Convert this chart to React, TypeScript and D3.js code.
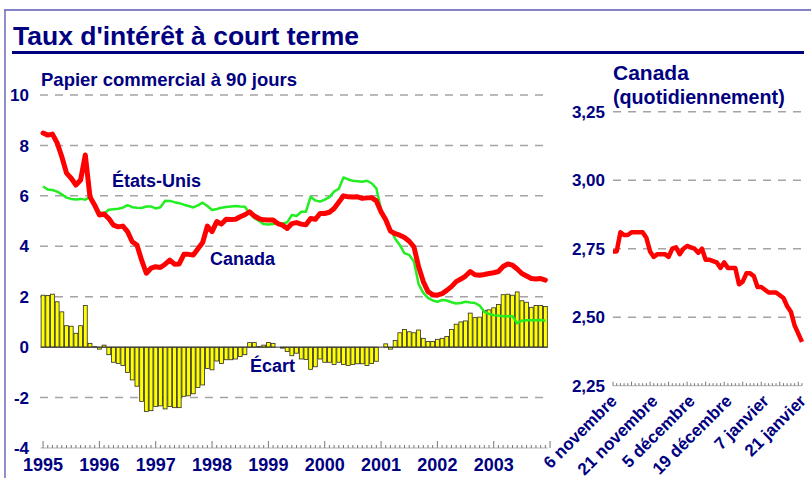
import React from 'react';
import * as d3 from 'd3';

const W = 811;
const H = 478;
const FONT = 'Arial, "Liberation Sans", sans-serif';
const NAVY = '#000080';

const years = ['1995', '1996', '1997', '1998', '1999', '2000', '2001', '2002', '2003'];
const leftTicks = [10, 8, 6, 4, 2, 0, -2, -4];

const canada = [
  8.49, 8.41, 8.45, 8.10, 7.55, 6.90, 6.70, 6.43, 6.63, 7.62, 5.96, 5.63,
  5.24, 5.28, 5.10, 4.84, 4.77, 4.80, 4.58, 4.18, 4.05, 3.45, 2.93, 3.13,
  3.19, 3.16, 3.29, 3.45, 3.29, 3.30, 3.68, 3.68, 3.65, 3.90, 4.15, 4.80,
  4.58, 4.98, 4.88, 5.07, 5.06, 5.07, 5.17, 5.25, 5.37, 5.20, 5.10, 5.05,
  5.04, 5.04, 4.90, 4.84, 4.71, 4.90, 4.94, 4.88, 4.85, 5.10, 5.07, 5.30,
  5.30, 5.35, 5.50, 5.75, 6.00, 5.96, 5.95, 5.96, 5.90, 5.92, 5.93, 5.80,
  5.37, 5.05, 4.60, 4.50, 4.44, 4.35, 4.20, 3.98, 3.19, 2.60, 2.20, 2.08,
  2.06, 2.12, 2.25, 2.40, 2.60, 2.70, 2.82, 3.00, 2.87, 2.85, 2.88, 2.92,
  2.95, 3.00, 3.20, 3.30, 3.25, 3.10, 2.92, 2.82, 2.72, 2.70, 2.72, 2.66,
];

const us = [
  6.37, 6.25, 6.23, 6.17, 6.06, 5.93, 5.88, 5.86, 5.88, 5.85, 5.95, 5.65,
  5.35, 5.30, 5.45, 5.47, 5.49, 5.53, 5.63, 5.55, 5.53, 5.52, 5.58, 5.58,
  5.50, 5.55, 5.81, 5.80, 5.75, 5.71, 5.65, 5.60, 5.54, 5.62, 5.73, 5.60,
  5.44, 5.48, 5.53, 5.56, 5.58, 5.60, 5.58, 5.57, 5.30, 5.12, 5.00, 4.88,
  4.86, 4.88, 4.90, 4.90, 4.95, 5.24, 5.20, 5.37, 5.37, 5.96, 5.82, 5.77,
  5.85, 5.95, 6.17, 6.28, 6.73, 6.65, 6.60, 6.58, 6.56, 6.60, 6.50, 6.30,
  5.45, 5.00, 4.70, 4.30, 4.05, 3.72, 3.66, 3.40, 2.50, 2.15, 1.95, 1.85,
  1.80, 1.87, 1.85, 1.78, 1.73, 1.75, 1.80, 1.77, 1.75, 1.65, 1.40, 1.32,
  1.27, 1.25, 1.23, 1.23, 1.23, 0.95, 1.05, 1.07, 1.07, 1.07, 1.08, 1.05,
];

const ecart = [
  2.06, 2.05, 2.10, 1.80, 1.40, 0.85, 0.83, 0.55, 0.85, 1.65, 0.15, 0.02,
  -0.08, 0.08, -0.30, -0.60, -0.65, -0.73, -1.00, -1.30, -1.55, -2.15, -2.55, -2.52,
  -2.35, -2.33, -2.45, -2.35, -2.40, -2.40, -1.95, -1.93, -1.85, -1.60, -1.50, -0.85,
  -0.90, -0.55, -0.65, -0.50, -0.50, -0.47, -0.37, -0.30, 0.18, 0.18, 0.02, 0.08,
  0.18, 0.15, 0.00, -0.04, -0.17, -0.34, -0.24, -0.47, -0.49, -0.88, -0.78, -0.47,
  -0.60, -0.60, -0.69, -0.60, -0.69, -0.73, -0.69, -0.66, -0.66, -0.73, -0.65, -0.56,
  0.00, 0.13, -0.08, 0.26, 0.57, 0.70, 0.61, 0.57, 0.68, 0.35, 0.22, 0.22,
  0.31, 0.35, 0.42, 0.70, 0.91, 1.00, 1.04, 1.35, 1.17, 1.19, 1.45, 1.48,
  1.56, 1.69, 2.08, 2.10, 2.06, 2.19, 1.84, 1.78, 1.58, 1.65, 1.65, 1.61,
];

const dailyCanada = [
  2.74, 2.74, 2.81, 2.80, 2.80, 2.81, 2.81, 2.81, 2.81, 2.79, 2.74, 2.72,
  2.73, 2.73, 2.73, 2.72, 2.75, 2.755, 2.73, 2.75, 2.76, 2.755, 2.75, 2.735,
  2.75, 2.71, 2.71, 2.705, 2.70, 2.68, 2.70, 2.68, 2.68, 2.68, 2.62, 2.63,
  2.66, 2.66, 2.65, 2.61, 2.61, 2.60, 2.59, 2.59, 2.59, 2.58, 2.57, 2.54,
  2.52, 2.47, 2.44, 2.41,
];
const dateLabels = ['6 novembre', '21 novembre', '5 décembre', '19 décembre', '7 janvier', '21 janvier'];
const dateLabelIdx = [0, 11, 21, 31, 41, 51];
const rightTicks = [3.25, 3.0, 2.75, 2.5, 2.25];

export default function App() {
  // left panel scales
  const x = d3.scaleLinear().domain([-0.5, 107.5]).range([40.7, 547.7]);
  const y = d3.scaleLinear().domain([-4, 10]).range([448, 95]);
  // right panel scales
  const xr = d3.scaleLinear().domain([0, dailyCanada.length - 1]).range([613, 802]);
  const yr = d3.scaleLinear().domain([2.25, 3.25]).range([385.7, 111.7]);

  const line = d3.line<number>().x((_, i) => x(i)).y((d) => y(d));
  const lineR = d3.line<number>().x((_, i) => xr(i)).y((d) => yr(d));
  const fmt = (v: number) => d3.format('.2f')(v).replace('.', ',');

  const bw = 3.9;
  const gx0 = 40;
  const gx1 = 548;
  const axisY = y(-4);
  const axisYR = yr(2.25);

  return (
    <svg width={W} height={H} style={{ position: 'absolute', left: 0, top: 0 }} fontFamily={FONT}>
      <rect x={0} y={0} width={W} height={H} fill="#fff" />
      {/* frame */}
      <line x1={4} x2={W} y1={10} y2={10} stroke="#8484c8" strokeWidth={2} />
      <line x1={5} x2={5} y1={10} y2={H} stroke="#6a6ab8" strokeWidth={1.5} />

      {/* title */}
      <text x={13} y={45} fontSize={26.5} fontWeight="bold" fill={NAVY}>Taux d'intérêt à court terme</text>
      <rect x={12} y={51} width={792} height={3} fill={NAVY} />

      <text x={41} y={86} fontSize={18.5} fontWeight="bold" fill={NAVY}>Papier commercial à 90 jours</text>
      <text x={613} y={80} fontSize={21} fontWeight="bold" fill={NAVY}>Canada</text>
      <text x={613} y={104} fontSize={19.7} fontWeight="bold" fill={NAVY}>(quotidiennement)</text>

      {/* left gridlines */}
      {leftTicks.filter((v) => v !== 0 && v !== -4).map((v) => (
        <line key={'g' + v} x1={gx0} x2={gx1} y1={y(v)} y2={y(v)} stroke="#a4a4a4" strokeWidth={1.5} strokeDasharray="8,7" />
      ))}
      {/* left tick labels */}
      {leftTicks.map((v) => (
        <text key={'t' + v} x={29} y={y(v)} dy="0.36em" textAnchor="end" fontSize={17} fontWeight="bold" fill={NAVY}>{v}</text>
      ))}

      {/* bottom axis */}
      <line x1={x(-0.5)} x2={x(107.5)} y1={axisY} y2={axisY} stroke="#b0b0b0" strokeWidth={1} />
      {d3.range(0, 109).map((i) => {
        const major = i % 12 === 0;
        return (
          <line key={'mt' + i} x1={x(i)} x2={x(i)} y1={axisY} y2={axisY - (major ? 7 : 3)} stroke="#777" strokeWidth={1} />
        );
      })}
      {years.map((yy, k) => (
        <text key={yy} x={x(k * 12)} y={471} textAnchor="middle" fontSize={18} fontWeight="bold" fill={NAVY}>{yy}</text>
      ))}

      {/* bars */}
      {ecart.map((v, i) => (
        <rect key={'b' + i} x={x(i) - bw / 2} y={Math.min(y(v), y(0))} width={bw} height={Math.abs(y(v) - y(0))}
          fill="#ffff00" stroke="#2a2a2a" strokeWidth={0.8} />
      ))}
      <line x1={x(-0.5)} x2={x(107.5)} y1={y(0)} y2={y(0)} stroke="#333" strokeWidth={1} />

      {/* lines */}
      <path d={line(us) || ''} fill="none" stroke="#22ee22" strokeWidth={2.5} strokeLinejoin="round" />
      <path d={line(canada) || ''} fill="none" stroke="#ff0000" strokeWidth={5} strokeLinejoin="round" strokeLinecap="round" />

      {/* series labels */}
      <text x={112} y={187} fontSize={18} fontWeight="bold" fill={NAVY}>États-Unis</text>
      <text x={210} y={265} fontSize={18} fontWeight="bold" fill={NAVY}>Canada</text>
      <text x={250} y={372} fontSize={18} fontWeight="bold" fill={NAVY}>Écart</text>

      {/* right panel */}
      {rightTicks.filter((v) => v !== 2.25).map((v) => (
        <line key={'rg' + v} x1={613} x2={802} y1={yr(v)} y2={yr(v)} stroke="#a4a4a4" strokeWidth={1.5} strokeDasharray="8,7" />
      ))}
      {rightTicks.map((v) => (
        <text key={'rt' + v} x={605} y={yr(v)} dy="0.36em" textAnchor="end" fontSize={17} fontWeight="bold" fill={NAVY}>{fmt(v)}</text>
      ))}
      <line x1={613} x2={802} y1={axisYR} y2={axisYR} stroke="#b0b0b0" strokeWidth={1} />
      {dailyCanada.map((_, i) => (
        <line key={'rtk' + i} x1={xr(i)} x2={xr(i)} y1={axisYR} y2={axisYR - (i % 5 === 0 ? 4 : 2.5)} stroke="#777" strokeWidth={1} />
      ))}
      <path d={lineR(dailyCanada) || ''} fill="none" stroke="#ff0000" strokeWidth={4.5} strokeLinejoin="round" />
      {dateLabels.map((lab, k) => {
        const px = xr(dateLabelIdx[k]) + 5;
        const py = 402;
        return (
          <text key={lab} transform={`translate(${px},${py}) rotate(-45)`} textAnchor="end" fontSize={17} fontWeight="bold" fill={NAVY}>{lab}</text>
        );
      })}
    </svg>
  );
}
